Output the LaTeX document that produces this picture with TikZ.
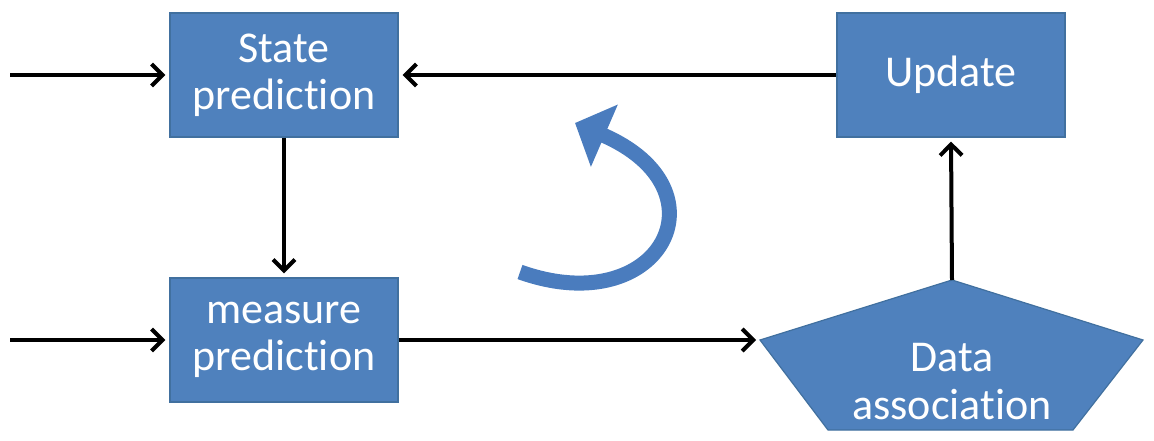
\documentclass[tikz,border=0pt]{standalone}
\usepackage{fontspec}
\setmainfont{Carlito}[Ligatures=NoCommon]
\usetikzlibrary{arrows.meta}
\definecolor{boxblue}{HTML}{4F81BD}
\definecolor{boxedge}{HTML}{41709F}
\definecolor{curveblue}{HTML}{4A7CBE}
\tikzset{
  blockbox/.style={draw=boxedge, line width=1.2pt, fill=boxblue, minimum width=228pt, minimum height=124pt, inner sep=0pt, align=center, text=white, font=\fontsize{44}{47}\selectfont},
  flow/.style={line width=4pt, -{Straight Barb[length=11pt,width=22pt,line width=4pt]}, shorten >=4pt},
}
\begin{document}
\begin{tikzpicture}[x=1pt,y=-1pt]
\useasboundingbox (0,0) rectangle (1154,441);
\node[blockbox] (sp) at (284,75) {State\\prediction};
\node[blockbox] (up) at (951,75) {Update};
\node[blockbox] (mp) at (284,340) {measure\\prediction};
% Data association pentagon
\coordinate (datop) at (952,280);
\coordinate (daleft) at (760,340);
\draw[draw=boxedge, line width=1.2pt, fill=boxblue] (datop) -- (1143,340) -- (1073,430) -- (828,430) -- (daleft) -- cycle;
\node[text=white, font=\fontsize{44}{48}\selectfont, align=center, inner sep=0pt] (da) at (952,382) {Data\\association};
% input arrows
\coordinate (in1) at (10,75);
\coordinate (in2) at (10,340);
\draw[flow] (in1) -- (sp.west);
\draw[flow] (in2) -- (mp.west);
\draw[flow] (up.west) -- (sp.east);
\draw[flow] (sp.south) -- (mp.north);
\draw[flow] (mp.east) -- (daleft);
\draw[flow] (datop) -- (up.south);
% curved arrow
\coordinate (ca) at (520,272);
\coordinate (cb) at (575,123);
\draw[curveblue, line width=15pt, -{Triangle[length=32pt,width=66pt]}] (ca) .. controls (660,322) and (730,190) .. (cb);
\end{tikzpicture}
\end{document}
